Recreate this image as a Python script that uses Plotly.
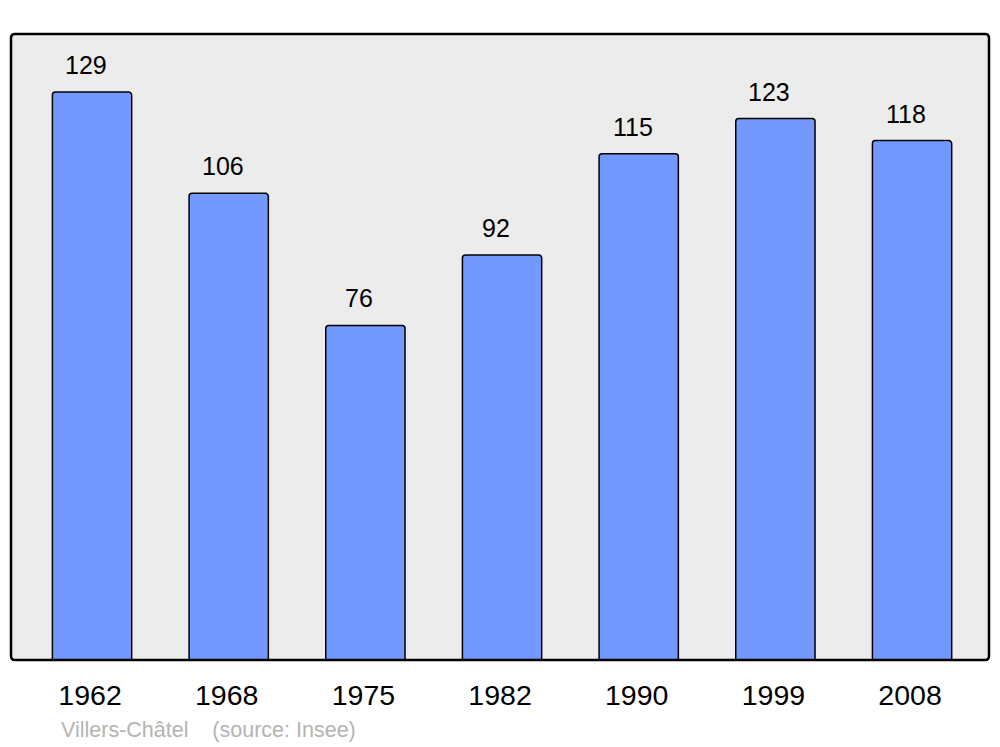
import plotly.graph_objects as go

years = ["1962", "1968", "1975", "1982", "1990", "1999", "2008"]
population = [129, 106, 76, 92, 115, 123, 118]
source_text = "Villers-Châtel    (source: Insee)"

fig = go.Figure()
fig.add_trace(go.Bar(
    x=years, y=population, width=0.58,
    marker=dict(color="#7399ff", line=dict(color="#000000", width=1.5), cornerradius=3),
    hoverinfo="skip",
))

for i, v in enumerate(population):
    fig.add_annotation(x=i, y=v, text=str(v), showarrow=False, xref="x", yref="y",
                       yanchor="middle", yshift=27, xshift=-6,
                       font=dict(family="Liberation Sans, Arial", size=25, color="#000000"))

fig.add_annotation(x=(59 - 11) / 978, y=-(730 - 660) / 626, xref="paper", yref="paper",
                   text=source_text, showarrow=False, xanchor="left", yanchor="middle",
                   font=dict(family="Liberation Sans, Arial", size=21.5, color="#b4b4b4"))

# rounded frame
rx, ry = 4 / 978, 4 / 626
path = (f"M {rx},0 L {1-rx},0 Q 1,0 1,{ry} L 1,{1-ry} Q 1,1 {1-rx},1 "
        f"L {rx},1 Q 0,1 0,{1-ry} L 0,{ry} Q 0,0 {rx},0 Z")
fig.add_shape(type="path", path=path, xref="paper", yref="paper",
              line=dict(color="#000000", width=2.5), layer="above")

fig.update_layout(
    width=1000, height=747,
    margin=dict(l=11, r=11, t=34, b=87),
    paper_bgcolor="#ffffff", plot_bgcolor="#ececec",
    showlegend=False,
    xaxis=dict(type="category", range=[-0.593, 6.563], showgrid=False, zeroline=False, showline=False,
               ticks="outside", ticklen=10, tickcolor="rgba(0,0,0,0)", ticklabelshift=-2,
               tickfont=dict(family="Liberation Sans, Arial", size=28.5, color="#000000"),
               fixedrange=True),
    yaxis=dict(range=[0, 142.2], showgrid=False, zeroline=False, showline=False,
               showticklabels=False, fixedrange=True),
)

fig.write_html("out.html", config={"displayModeBar": False},
               post_script="document.body.style.margin='0';document.body.style.padding='0';")
